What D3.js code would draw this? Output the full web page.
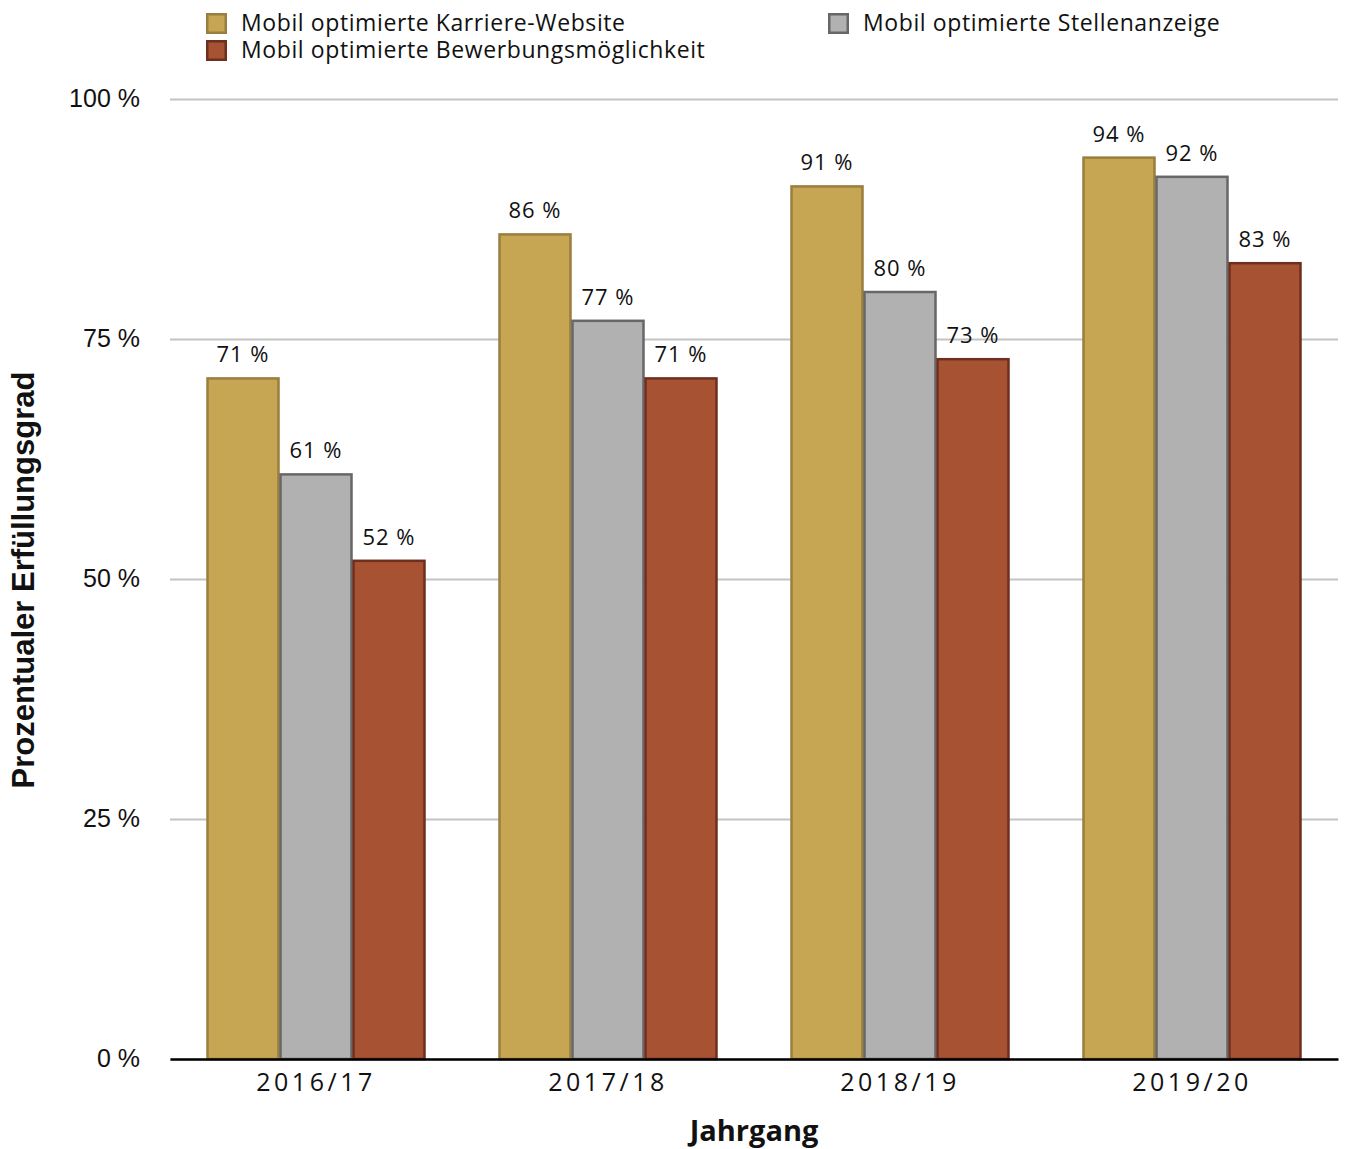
<!DOCTYPE html>
<html>
<head>
<meta charset="utf-8">
<script src="https://cdn.jsdelivr.net/npm/d3@7"></script>
<style>
  html, body { margin: 0; padding: 0; background: #fff; }
  svg { display: block; }
</style>
</head>
<body>
<svg id="chart" width="1348" height="1149"></svg>
<script>
// Jahrgänge and the three indicators (percent)
const categories = ["2016/17", "2017/18", "2018/19", "2019/20"];
const seriesNames = [
  "Mobil optimierte Karriere-Website",
  "Mobil optimierte Stellenanzeige",
  "Mobil optimierte Bewerbungsmöglichkeit"
];
const karriereWebsite = [71, 86, 91, 94];
const stellenanzeige = [61, 77, 80, 92];
const bewerbung = [52, 71, 73, 83];
const yTicks = [0, 25, 50, 75, 100];

const seriesValues = [karriereWebsite, stellenanzeige, bewerbung];
const fills = ["#c6a553", "#b1b1b1", "#a65233"];
const strokes = ["#9a7e3d", "#676767", "#6d2f1e"];

const svg = d3.select("#chart");
const margin = { left: 170, right: 10, top: 99, bottom: 90 };
const W = 1348, H = 1149;
const plotW = W - margin.left - margin.right;
const plotH = H - margin.top - margin.bottom;

const g = svg.append("g").attr("transform", `translate(${margin.left},${margin.top})`);

const x0 = d3.scaleBand().domain(categories).range([0, plotW]).paddingInner(0.25).paddingOuter(0.125);
const x1 = d3.scaleBand().domain(d3.range(seriesNames.length)).range([0, x0.bandwidth()]).padding(0);
const y = d3.scaleLinear().domain([0, 100]).range([plotH, 0]);

// gridlines + y tick labels
const yAxis = d3.axisLeft(y).tickValues(yTicks).tickSize(-plotW).tickPadding(30)
  .tickFormat(d => d + " %");
const ya = g.append("g").call(yAxis);
ya.select(".domain").remove();
ya.selectAll(".tick line").attr("stroke", "#c3c3c3").attr("stroke-width", 2);
ya.selectAll(".tick text")
  .attr("font-family", "'Liberation Sans', Arial, sans-serif")
  .attr("font-size", 25).attr("fill", "#111").attr("dy", "0.28em");

// bars
const groups = g.selectAll(".grp").data(categories).join("g")
  .attr("transform", d => `translate(${x0(d)},0)`);

groups.each(function(cat, ci) {
  const grp = d3.select(this);
  seriesValues.forEach((vals, si) => {
    const v = vals[ci];
    grp.append("rect")
      .attr("x", x1(si) + 1)
      .attr("y", y(v) + 1)
      .attr("width", x1.bandwidth() - 2)
      .attr("height", y(0) - y(v) - 1)
      .attr("fill", fills[si])
      .attr("stroke", strokes[si])
      .attr("stroke-width", 2.5);
    grp.append("text")
      .attr("x", x1(si) + x1.bandwidth() / 2)
      .attr("y", y(v) - 15)
      .attr("text-anchor", "middle")
      .attr("font-family", "'Open Sans', 'Noto Sans', sans-serif")
      .attr("font-size", 22)
      .attr("letter-spacing", 1)
      .attr("fill", "#111")
      .text(v + " %");
  });
});

// x axis
const xAxis = d3.axisBottom(x0).tickSize(0).tickPadding(14);
const xa = g.append("g").attr("transform", `translate(0,${plotH})`).call(xAxis);
xa.select(".domain").attr("stroke", "#000").attr("stroke-width", 2.5);
xa.selectAll(".tick text")
  .attr("font-family", "'Open Sans', 'Noto Sans', sans-serif")
  .attr("font-size", 25).attr("letter-spacing", 3.5).attr("fill", "#111");

// axis titles
svg.append("text")
  .attr("x", margin.left + plotW / 2).attr("y", 1141)
  .attr("text-anchor", "middle")
  .attr("font-family", "'Open Sans', 'Noto Sans', sans-serif")
  .attr("font-weight", "bold").attr("font-size", 29).attr("fill", "#111")
  .text("Jahrgang");

svg.append("text")
  .attr("transform", `translate(34,${margin.top + plotH / 2 + 1}) rotate(-90)`)
  .attr("text-anchor", "middle")
  .attr("font-family", "'Liberation Sans', Arial, sans-serif")
  .attr("font-weight", "bold").attr("font-size", 31).attr("fill", "#111")
  .text("Prozentualer Erfüllungsgrad");

// legend
const legendPos = [[206, 13], [828, 13], [206, 40]];
seriesNames.forEach((name, i) => {
  const [lx, ly] = legendPos[i];
  const item = svg.append("g").attr("transform", `translate(${lx},${ly})`);
  item.append("rect").attr("x", 1.25).attr("y", 1.25).attr("width", 18.5).attr("height", 18.5)
    .attr("fill", fills[i]).attr("stroke", strokes[i]).attr("stroke-width", 2.5);
  item.append("text").attr("x", 35).attr("y", 18)
    .attr("font-family", "'Open Sans', 'Noto Sans', sans-serif")
    .attr("font-size", 23).attr("letter-spacing", 0.6).attr("fill", "#111")
    .text(name);
});
</script>
</body>
</html>
